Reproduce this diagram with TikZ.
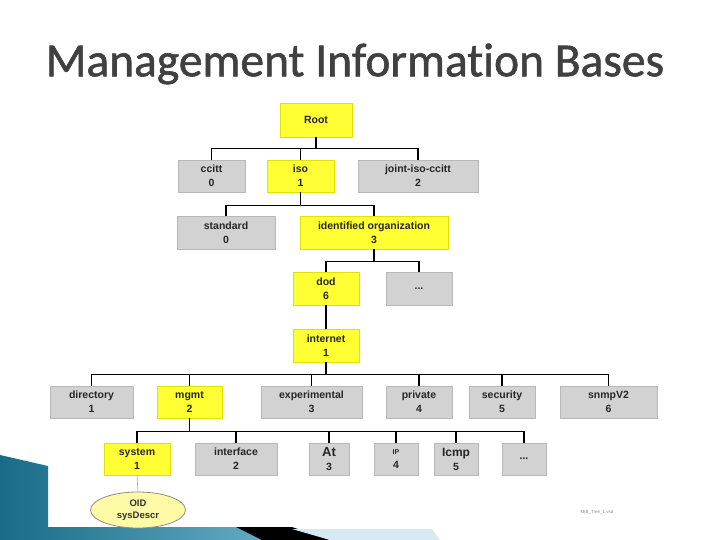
\documentclass[tikz,border=0pt]{standalone}
\usepackage{fontspec}
\setmainfont{Liberation Sans}
\newfontfamily\titlefont[Ligatures=NoCommon,FakeBold=1.2]{Carlito}
\usetikzlibrary{shapes.geometric,calc}
\definecolor{boxgray}{HTML}{D2D2D2}
\definecolor{boxgrayline}{HTML}{B8B8B8}
\definecolor{boxyellow}{HTML}{FFFF33}
\definecolor{boxyellowline}{HTML}{E2E200}
\definecolor{titlegray}{HTML}{404040}
\definecolor{swoosh}{HTML}{1F86A8}
\definecolor{swooshlight}{HTML}{D6EAF2}
\begin{document}
\begin{tikzpicture}[x=1pt,y=-1pt,
  box/.style={rectangle,draw=boxgrayline,line width=0.8pt,fill=boxgray,inner sep=0pt,
    align=center,font=\fontsize{10.5}{14}\selectfont\bfseries,text=black!85},
  ybox/.style={box,fill=boxyellow,draw=boxyellowline},
  wire/.style={draw=black,line width=1.3pt},
  leaf/.style={ellipse,draw=black!45,fill=yellow!35,line width=0.8pt,inner sep=0pt,
    minimum width=95pt,minimum height=36pt,align=center,
    font=\fontsize{9.5}{12}\selectfont\bfseries,text=black!80}]
\useasboundingbox (0,0) rectangle (720,540);
\fill[white] (0,0) rectangle (720,540);
% bottom decoration
\shade[left color=swoosh!80!black,right color=swoosh!70!white]
  (0,455) -- (48,466) -- (48,527) -- (236,527) -- (262,540) -- (0,540) -- cycle;
\fill[black] (236,527) -- (292,527) -- (330,540) -- (262,540) -- cycle;
\fill[swooshlight] (292,529) -- (432,529) -- (440,540) -- (330,540) -- cycle;
% title
\node[text=titlegray,font=\titlefont\fontsize{47.5}{50}\selectfont] (title) at (355,64) {Management Information Bases};
% nodes
\node[ybox,minimum width=72pt,minimum height=34pt] (root) at (316,120) {Root};
\node[box,minimum width=67pt,minimum height=32pt] (ccitt) at (211.5,176) {ccitt\\0};
\node[ybox,minimum width=67pt,minimum height=32pt] (iso) at (300.5,176) {iso\\1};
\node[box,minimum width=120pt,minimum height=32pt] (joint) at (418,176) {joint-iso-ccitt\\2};
\node[box,minimum width=98pt,minimum height=33pt] (standard) at (226,232.5) {standard\\0};
\node[ybox,minimum width=148pt,minimum height=33pt] (idorg) at (374,232.5) {identified organization\\3};
\node[ybox,minimum width=66pt,minimum height=33pt] (dod) at (326,288.5) {dod\\6};
\node[box,minimum width=66pt,minimum height=33pt] (dotsA) at (419,288.5) {...};
\node[ybox,minimum width=66pt,minimum height=33pt] (internet) at (326,345.5) {internet\\1};
\node[box,minimum width=83pt,minimum height=32pt] (directory) at (91.5,402) {directory\\1};
\node[ybox,minimum width=65pt,minimum height=32pt] (mgmt) at (189.5,402) {mgmt\\2};
\node[box,minimum width=101pt,minimum height=32pt] (experimental) at (311.5,402) {experimental\\3};
\node[box,minimum width=66pt,minimum height=32pt] (private) at (419,402) {private\\4};
\node[box,minimum width=66pt,minimum height=32pt] (security) at (502,402) {security\\5};
\node[box,minimum width=97pt,minimum height=32pt] (snmp) at (608.5,402) {snmpV2\\6};
\node[ybox,minimum width=66pt,minimum height=32pt] (system) at (137,459) {system\\1};
\node[box,minimum width=82pt,minimum height=32pt] (interface) at (236,459) {interface\\2};
\node[box,minimum width=40pt,minimum height=32pt] (at) at (329,459) {{\fontsize{13}{14}\selectfont At}\\3};
\node[box,minimum width=44pt,minimum height=32pt] (ip) at (396,459) {{\fontsize{7}{14}\selectfont IP}\\4};
\node[box,minimum width=44pt,minimum height=32pt] (icmp) at (456,459) {{\fontsize{12}{14}\selectfont Icmp}\\5};
\node[box,minimum width=44pt,minimum height=32pt] (dotsB) at (524,459) {...};
\node[leaf] (oid) at (138,510) {OID\\sysDescr};
\node[text=black!45,font=\fontsize{4.5}{5}\selectfont] (file) at (597,512) {MIB\_Tree\_1.vsd};
% connectors
\foreach \c in {ccitt,iso,joint} \draw[wire] (root.south) -- ++(0,11) -| (\c.north);
\foreach \c in {standard,idorg} \draw[wire] (iso.south) -- ++(0,13) -| (\c.north);
\foreach \c in {dod,dotsA} \draw[wire] (idorg.south) -- ++(0,12) -| (\c.north);
\draw[wire] (dod.south) -- (internet.north);
\foreach \c in {directory,mgmt,experimental,private,security,snmp} \draw[wire] (internet.south) -- ++(0,12) -| (\c.north);
\foreach \c in {system,interface,at,ip,icmp,dotsB} \draw[wire] (mgmt.south) -- ++(0,13) -| (\c.north);
\draw[black!35,line width=0.6pt] (system.south) -- (oid.north);
\end{tikzpicture}
\end{document}
